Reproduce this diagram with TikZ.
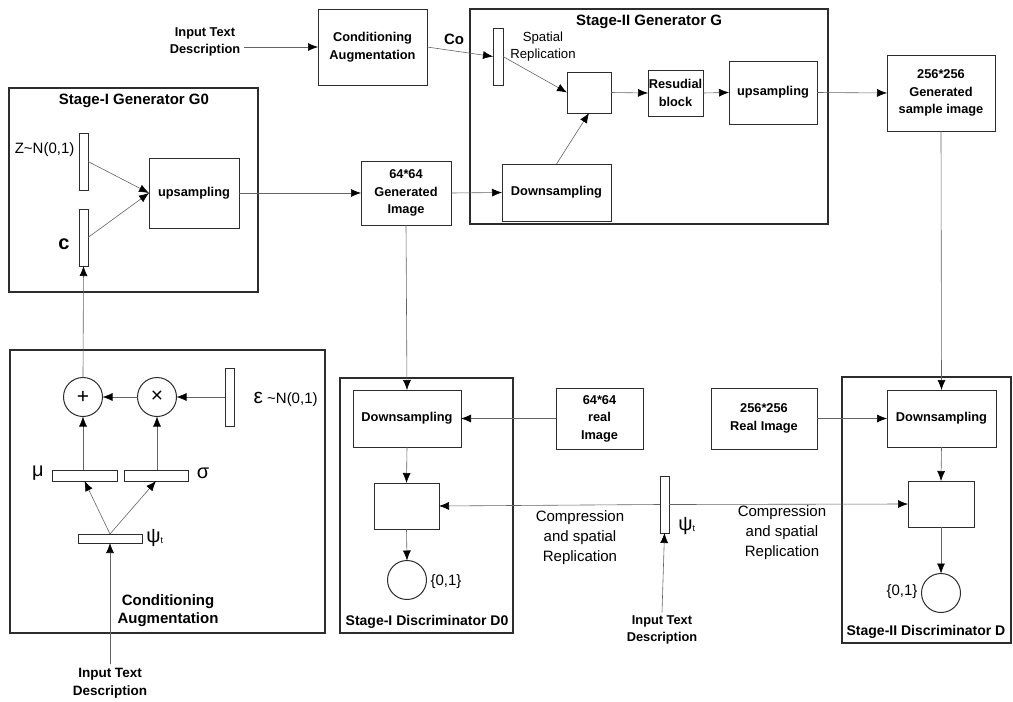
\documentclass[tikz,border=0pt]{standalone}
\usepackage{fontspec}
\setmainfont{Liberation Sans}
\usetikzlibrary{arrows.meta}
\definecolor{bordergray}{RGB}{45, 45, 45}
\definecolor{linegray}{RGB}{100, 100, 100}

\begin{document}
\begin{tikzpicture}[x = 1pt, y = -1pt, line width = 0.6pt,
  >={Latex[length=10pt, width=8pt, color=black]},
  box/.style = {draw = bordergray, line width = 1pt, inner sep = 0pt, outer sep = 0pt, align = center, font = \bfseries\fontsize{12.8}{17.5}\selectfont},
  bar/.style = {draw = bordergray, line width = 1pt, inner sep = 0pt, outer sep = 0pt},
  frame/.style = {draw = bordergray, line width = 1.2pt, inner sep = 0pt},
  op/.style = {circle, draw = bordergray, line width = 1pt, minimum size = 39pt, inner sep = 0pt, outer sep = 0pt, font = \fontsize{21}{21}\selectfont},
  ttl/.style = {font = \bfseries\fontsize{15}{18}\selectfont, align = center},
  sttl/.style = {font = \bfseries\fontsize{14}{17}\selectfont},
  btxt/.style = {font = \bfseries\fontsize{12.8}{16.5}\selectfont, align = center},
  lbl/.style = {font = \fontsize{15}{20}\selectfont, align = center},
  greek/.style = {font = \fontsize{20}{20}\selectfont, inner sep = 0pt},
  con/.style = {draw = linegray, ->}]
\useasboundingbox (0,0) rectangle (1013,702);

\node[frame, minimum width = 249pt, minimum height = 204pt] (g1) at (133.5,190) {};
\node[ttl] (g1t) at (134,101) {Stage-I Generator G0};
\node[frame, minimum width = 358pt, minimum height = 215pt] (g2) at (649,116.5) {};
\node[ttl] (g2t) at (649,22) {Stage-II Generator G};
\node[frame, minimum width = 315pt, minimum height = 283pt] (ca2) at (167.5,491.5) {};
\node[frame, minimum width = 173pt, minimum height = 255pt] (d1) at (426.5,505.5) {};
\node[sttl] (d1t) at (427,622) {Stage-I Discriminator D0};
\node[frame, minimum width = 169pt, minimum height = 266pt] (d2) at (926.5,510) {};
\node[sttl] (d2t) at (926,632) {Stage-II Discriminator D};

\node[btxt] (txt1) at (205,42) {Input Text\\Description};
\node[box, minimum width = 109pt, minimum height = 76pt] (ca1) at (372.5,47) {Conditioning\\Augmentation};
\node[ttl] (co) at (454,39) {Co};
\node[bar, minimum width = 10pt, minimum height = 57pt] (spbar) at (498,56.5) {};
\node[lbl, font = \fontsize{13.2}{17}\selectfont] (sprep) at (543,47) {Spatial\\Replication};
\node[box, minimum width = 44pt, minimum height = 41pt] (join2) at (589,92.5) {};
\node[box, minimum width = 55pt, minimum height = 46pt] (res) at (675.5,93) {Resudial\\block};
\node[box, minimum width = 88pt, minimum height = 63pt] (up2) at (773,92.5) {upsampling};
\node[box, minimum width = 108pt, minimum height = 76pt] (gen256) at (941,93) {256*256\\Generated\\sample image};
\node[box, minimum width = 109pt, minimum height = 57pt] (down2) at (556.5,192.5) {Downsampling};

\node[bar, minimum width = 9pt, minimum height = 57pt] (zbar) at (83.5,161.5) {};
\node[lbl, anchor = east] (zlab) at (78,150) {Z\textasciitilde N(0,1)};
\node[bar, minimum width = 9pt, minimum height = 57pt] (cbar) at (83.5,237.5) {};
\node[font = \bfseries\fontsize{20}{20}\selectfont] (clab) at (64,244) {c};
\node[box, minimum width = 90pt, minimum height = 70pt] (up1) at (194,193) {upsampling};
\node[box, minimum width = 90pt, minimum height = 64pt] (gen64) at (406,193) {64*64\\Generated\\Image};

\node[op] (plus) at (83,397) {+};
\node[op] (times) at (157,397) {×};
\node[bar, minimum width = 9pt, minimum height = 58pt] (epsbar) at (229.5,397) {};
\node[lbl, anchor = west] (epslab) at (250,399) {{\fontsize{21}{21}\selectfont ε} \textasciitilde N(0,1)};
\node[bar, minimum width = 65pt, minimum height = 11pt] (mubar) at (84.5,475.5) {};
\node[greek] (mulab) at (38,473) {μ};
\node[bar, minimum width = 64pt, minimum height = 11pt] (sigbar) at (156,475.5) {};
\node[greek] (siglab) at (203,473) {σ};
\node[bar, minimum width = 64pt, minimum height = 9pt] (psibar) at (110,538.5) {};
\node[greek, anchor = west] (psilab) at (146,538) {ψ\raisebox{-1pt}{\fontsize{9}{9}\selectfont t}};
\node[ttl] (ca2t) at (168,611) {Conditioning\\Augmentation};
\node[btxt, font = \bfseries\fontsize{13.5}{18}\selectfont] (txt2) at (110,683) {Input Text\\Description};

\node[box, minimum width = 108pt, minimum height = 57pt] (down1) at (407,418.5) {Downsampling};
\node[box, minimum width = 87pt, minimum height = 61pt] (real64) at (599.5,418.5) {64*64\\real\\Image};
\node[box, minimum width = 65pt, minimum height = 46pt] (join1) at (406.5,506) {};
\node[op] (out1) at (407,580) {};
\node[lbl, anchor = west] (out1lab) at (427,582) {\{0,1\}};
\node[bar, minimum width = 9pt, minimum height = 57pt] (psibar2) at (664.5,504.5) {};
\node[greek, anchor = west] (psilab2) at (678,526) {ψ\raisebox{-1pt}{\fontsize{9}{9}\selectfont t}};
\node[lbl] (comp1) at (580,538) {Compression\\and spatial\\Replication};
\node[btxt] (txt3) at (662,630) {Input Text\\Description};

\node[box, minimum width = 109pt, minimum height = 57pt] (down3) at (941.5,418.5) {Downsampling};
\node[box, minimum width = 106pt, minimum height = 61pt] (real256) at (764,418.5) {256*256\\Real Image};
\node[box, minimum width = 66pt, minimum height = 46pt] (join3) at (941,504) {};
\node[op] (out2) at (941,593) {};
\node[lbl, anchor = east] (out2lab) at (921,592) {\{0,1\}};
\node[lbl] (comp2) at (782,533) {Compression\\and spatial\\Replication};

\draw[con] (txt1.east |- ca1.west) -- (ca1.west);
\draw[con] (ca1.east) -- (spbar.west);
\draw[con] (spbar.east) -- (join2.west);
\draw[con] (down2.north) -- (join2.south);
\draw[con] (join2.east) -- (res.west);
\draw[con] (res.east) -- (up2.west);
\draw[con] (up2.east) -- (gen256.west);
\draw[con] (zbar.east) -- (up1.west);
\draw[con] (cbar.east) -- (up1.west);
\draw[con] (up1.east) -- (gen64.west);
\draw[con] (gen64.east) -- (down2.west);
\draw[con] (plus.north) -- (cbar.south);
\draw[con] (epsbar.west) -- (times.east);
\draw[con] (times.west) -- (plus.east);
\draw[con] (plus |- mubar.north) -- (plus.south);
\draw[con] (times |- sigbar.north) -- (times.south);
\draw[con] (psibar.north) -- (mubar.south);
\draw[con] (psibar.north) -- (sigbar.south);
\draw[con] (txt2.north) -- (psibar.south);
\draw[con] (gen64.south) -- (down1.north);
\draw[con] (real64.west) -- (down1.east);
\draw[con] (down1.south) -- (join1.north);
\draw[con] (join1.south) -- (out1.north);
\draw[con] (psibar2.west) -- (join1.east);
\draw[con] (psibar2.east) -- (join3.west);
\draw[con] (txt3.north) -- (psibar2.south);
\draw[con] (gen256.south) -- (down3.north);
\draw[con] (real256.east) -- (down3.west);
\draw[con] (down3.south) -- (join3.north);
\draw[con] (join3.south) -- (out2.north);
\end{tikzpicture}
\end{document}
